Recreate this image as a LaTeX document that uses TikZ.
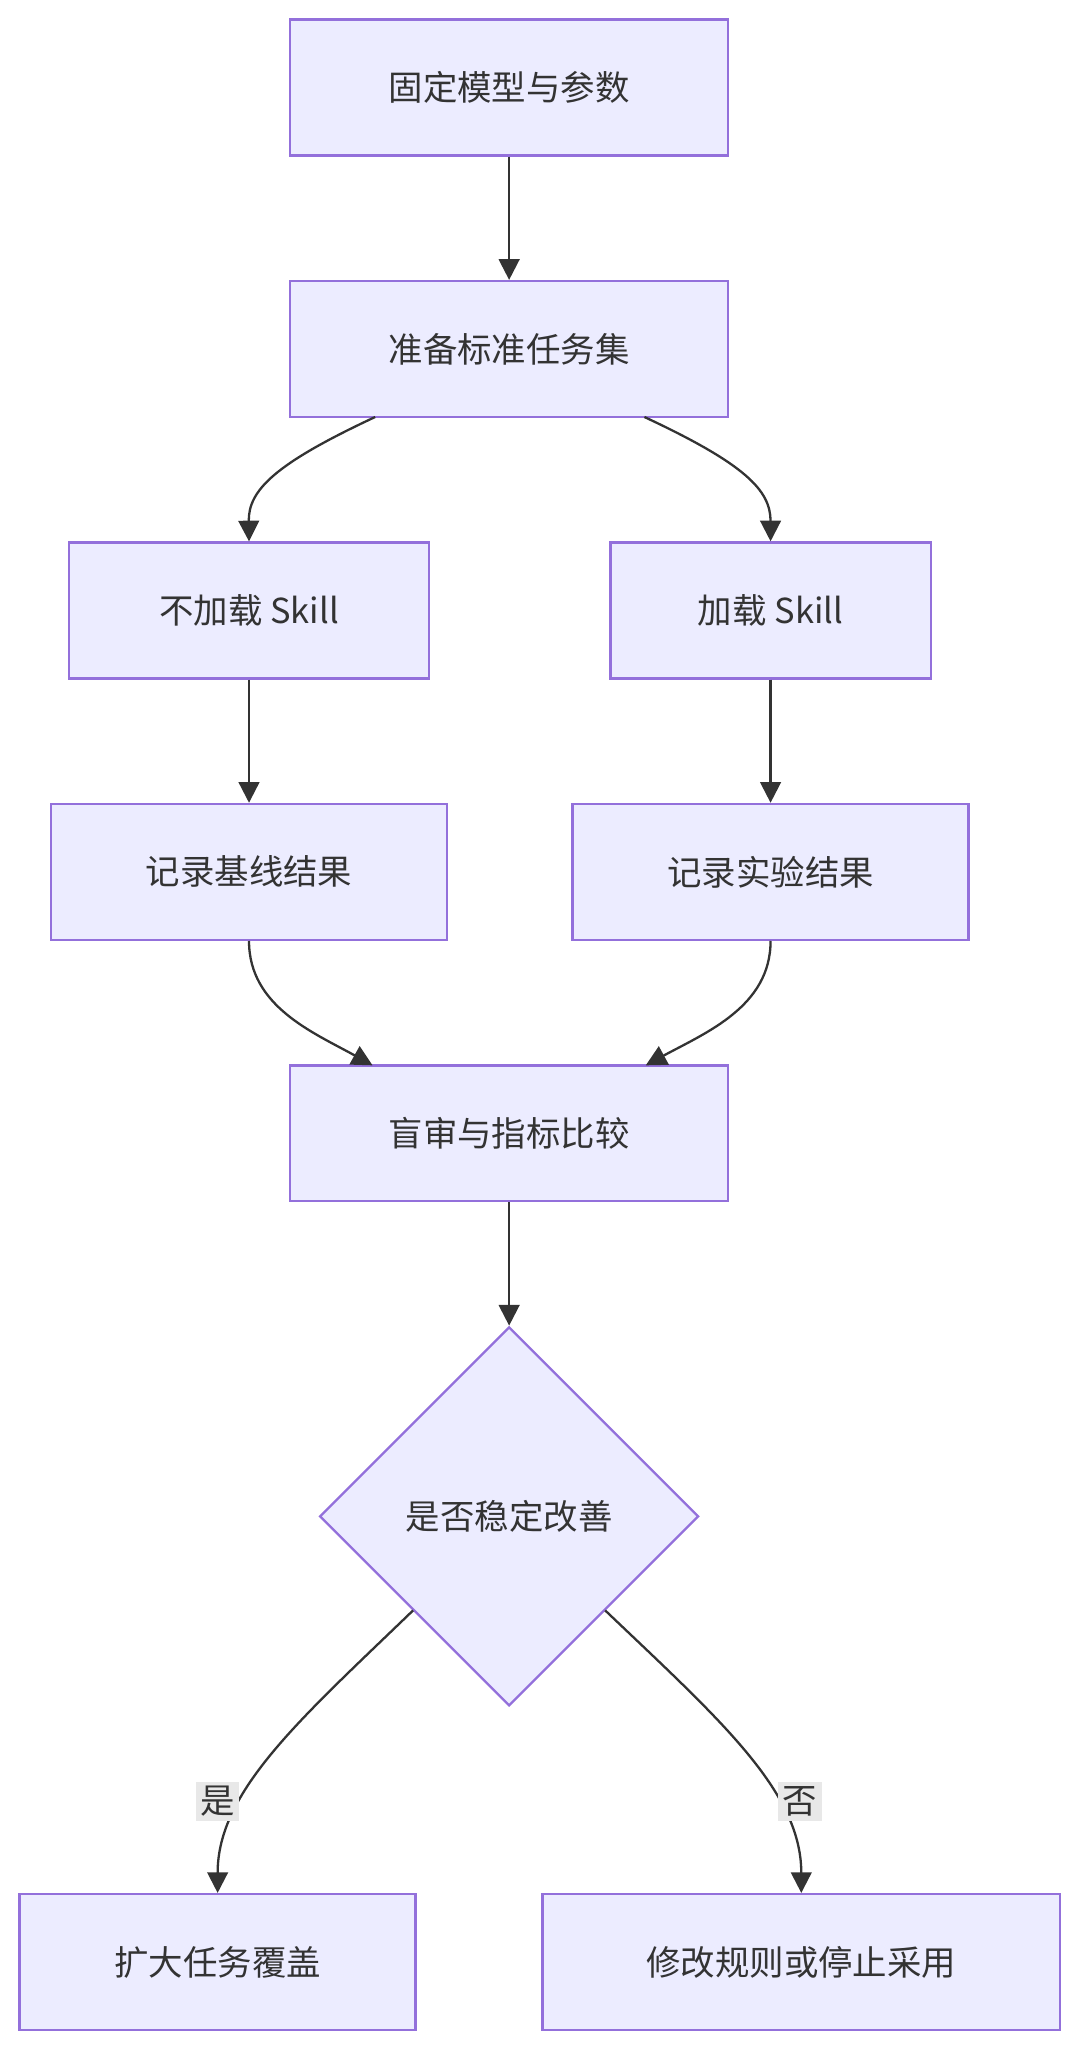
\documentclass[tikz,border=0pt]{standalone}
\usepackage{fontspec}
\setmainfont{Noto Sans CJK SC}
\usetikzlibrary{arrows.meta,shapes.geometric}
\definecolor{nf}{HTML}{ECECFF}
\definecolor{ns}{HTML}{9370DB}
\definecolor{ln}{HTML}{333333}
\definecolor{lb}{HTML}{E8E8E8}
\begin{document}
\begin{tikzpicture}[x=0.02cm,y=-0.02cm,
  box/.style={draw=ns,fill=nf,line width=1pt,minimum height=2.08cm,inner sep=0pt,font=\fontsize{15}{18}\selectfont,text=ln},
  dia/.style={draw=ns,fill=nf,line width=1pt,diamond,minimum width=5.8cm,minimum height=5.8cm,inner sep=0pt,font=\fontsize{15}{18}\selectfont,text=ln},
  arr/.style={draw=ln,line width=1pt,-{Triangle[length=9pt,width=9pt]}},
  lab/.style={fill=lb,inner sep=2pt,font=\fontsize{15}{18}\selectfont,text=ln}]
\useasboundingbox (0,0) rectangle (826,1566);
\node[box,minimum width=6.7cm] (A) at (389.5,67) {固定模型与参数};
\node[box,minimum width=6.7cm] (B) at (389.5,267) {准备标准任务集};
\node[box,minimum width=5.5cm] (C) at (190.5,467) {不加载 Skill};
\node[box,minimum width=4.9cm] (D) at (589.5,467) {加载 Skill};
\node[box,minimum width=6.06cm] (E) at (190.5,667) {记录基线结果};
\node[box,minimum width=6.06cm] (F) at (589.5,667) {记录实验结果};
\node[box,minimum width=6.7cm] (G) at (389.5,867) {盲审与指标比较};
\node[dia] (H) at (389.5,1160) {是否稳定改善};
\node[box,minimum width=6.06cm] (I) at (166.5,1501) {扩大任务覆盖};
\node[box,minimum width=7.92cm] (J) at (613,1501) {修改规则或停止采用};
\coordinate (b1) at (287,319); \coordinate (b2) at (493,319);
\coordinate (e1) at (285,815); \coordinate (f1) at (494,815);
\coordinate (h1) at (316,1232); \coordinate (h2) at (463,1232);
\draw[arr] (A) -- (B);
\draw[arr] (b1) .. controls (210,355) and (190,375) .. (C.north);
\draw[arr] (b2) .. controls (570,355) and (589.5,375) .. (D.north);
\draw[arr] (C) -- (E);
\draw[arr] (D) -- (F);
\draw[arr] (E.south) .. controls (190.5,770) and (240,790) .. (e1);
\draw[arr] (F.south) .. controls (589.5,770) and (540,790) .. (f1);
\draw[arr] (G) -- (H);
\draw[arr] (h1) .. controls (230,1315) and (166.5,1370) .. (I.north);
\draw[arr] (h2) .. controls (550,1315) and (613,1370) .. (J.north);
\node[lab] (ly) at (166.5,1378) {是};
\node[lab] (ln) at (612,1378) {否};
\end{tikzpicture}
\end{document}
